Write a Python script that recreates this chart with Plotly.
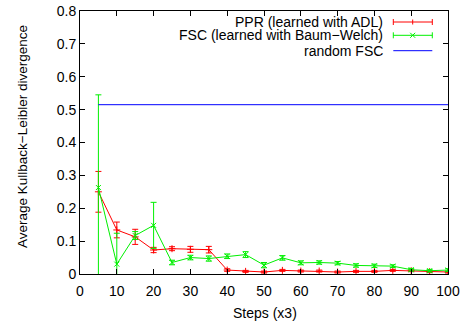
import plotly.graph_objects as go

steps = [5, 10, 15, 20, 25, 30, 35, 40, 45, 50, 55, 60, 65, 70, 75, 80, 85, 90, 95, 100]
ppr = [0.250, 0.134, 0.113, 0.073, 0.077, 0.075, 0.074, 0.012, 0.008, 0.006, 0.011, 0.009,
       0.009, 0.006, 0.008, 0.008, 0.011, 0.010, 0.007, 0.006]
ppr_err = [0.062, 0.024, 0.023, 0.008, 0.006, 0.009, 0.010, 0.004, 0.003, 0.003, 0.003, 0.003,
           0.003, 0.003, 0.003, 0.003, 0.003, 0.003, 0.003, 0.003]
fsc = [0.263, 0.030, 0.117, 0.148, 0.035, 0.050, 0.047, 0.054, 0.059, 0.027, 0.049, 0.034,
       0.035, 0.033, 0.026, 0.025, 0.024, 0.013, 0.010, 0.012]
fsc_err = [0.282, 0.094, 0.012, 0.070, 0.007, 0.007, 0.008, 0.007, 0.009, 0.008, 0.007, 0.006,
           0.005, 0.005, 0.005, 0.005, 0.004, 0.004, 0.004, 0.004]
random_fsc = 0.515
random_x = [5, 100]

labels = ["PPR (learned with ADL)", "FSC (learned with Baum\u2212Welch)", "random FSC"]
x_ticks = list(range(0, 101, 10))
y_ticks = [round(0.1 * i, 1) for i in range(9)]

RED, GREEN, BLUE = "#ff0000", "#00f000", "#0000ff"
FONT = "Liberation Sans, Arial, Helvetica, sans-serif"

W, H = 464, 324
L, R, T, B = 80, 16, 11, 50
PW, PH = W - L - R, H - T - B

def px(xp):
    return (xp - L) / PW

def py(yp):
    return 1 - (yp - T) / PH

fig = go.Figure()
fig.add_trace(go.Scatter(
    x=steps, y=ppr, mode="lines+markers", name=labels[0], showlegend=False,
    line=dict(color=RED, width=1),
    marker=dict(symbol="cross-thin", size=5, line=dict(color=RED, width=1), color=RED),
    error_y=dict(type="data", array=ppr_err, color=RED, thickness=1, width=3),
))
fig.add_trace(go.Scatter(
    x=steps, y=fsc, mode="lines+markers", name=labels[1], showlegend=False,
    line=dict(color=GREEN, width=1),
    marker=dict(symbol="x-thin", size=5, line=dict(color=GREEN, width=1), color=GREEN),
    error_y=dict(type="data", array=fsc_err, color=GREEN, thickness=1, width=3),
))
fig.add_trace(go.Scatter(
    x=random_x, y=[random_fsc] * len(random_x), mode="lines", name=labels[2], showlegend=False,
    line=dict(color=BLUE, width=1),
))

# manual gnuplot-style legend (text right, sample on right)
shapes = []
annotations = []
rows = [(22.0, RED, "plus"), (35.3, GREEN, "x"), (50.7, BLUE, None)]
x0p, x1p, xm = 393.3, 432.3, 412.7
for (yrow, col, mk), lab in zip(rows, labels):
    annotations.append(dict(x=px(384.5), y=py(yrow), xref="paper", yref="paper",
                            text=lab, showarrow=False, xanchor="right", yanchor="middle",
                            font=dict(family=FONT, size=14, color="black")))
    shapes.append(dict(type="line", xref="paper", yref="paper", x0=px(x0p), x1=px(x1p),
                       y0=py(yrow), y1=py(yrow), line=dict(color=col, width=1)))
    if mk is not None:
        for xc in (x0p, x1p):
            shapes.append(dict(type="line", xref="paper", yref="paper", x0=px(xc), x1=px(xc),
                               y0=py(yrow - 3), y1=py(yrow + 3), line=dict(color=col, width=1)))
        if mk == "plus":
            shapes.append(dict(type="line", xref="paper", yref="paper", x0=px(xm), x1=px(xm),
                               y0=py(yrow - 2.5), y1=py(yrow + 2.5), line=dict(color=col, width=1)))
        else:
            shapes.append(dict(type="line", xref="paper", yref="paper", x0=px(xm - 2.5), x1=px(xm + 2.5),
                               y0=py(yrow - 2.5), y1=py(yrow + 2.5), line=dict(color=col, width=1)))
            shapes.append(dict(type="line", xref="paper", yref="paper", x0=px(xm - 2.5), x1=px(xm + 2.5),
                               y0=py(yrow + 2.5), y1=py(yrow - 2.5), line=dict(color=col, width=1)))

annotations.append(dict(x=px(264.5), y=py(312.7), xref="paper", yref="paper",
                        text="Steps (x3)", showarrow=False, xanchor="center", yanchor="middle",
                        font=dict(family=FONT, size=14, color="black")))
annotations.append(dict(x=px(22), y=py(137), xref="paper", yref="paper", textangle=-90,
                        text="Average Kullback\u2212Leibler divergence", showarrow=False,
                        xanchor="center", yanchor="middle",
                        font=dict(family=FONT, size=13.5, color="black")))

axis_common = dict(showgrid=False, zeroline=False, showline=True, linecolor="black", linewidth=1,
                   mirror="ticks", ticks="inside", ticklen=5, tickcolor="black", tickwidth=1,
                   automargin=False,
                   tickfont=dict(family=FONT, size=14, color="black"))

fig.update_layout(
    width=W, height=H, autosize=False,
    margin=dict(l=L, r=R, t=T, b=B, pad=0, autoexpand=False),
    paper_bgcolor="white", plot_bgcolor="white",
    showlegend=False,
    shapes=shapes, annotations=annotations,
    xaxis=dict(range=[0, 100], tickvals=x_ticks, ticktext=[str(v) for v in x_ticks],
               ticklabelstandoff=4, **axis_common),
    yaxis=dict(range=[0, 0.8], tickvals=y_ticks, ticktext=[f"{v:g}" for v in y_ticks], **axis_common),
)

fig.write_html("out.html", config={"displayModeBar": False, "staticPlot": True},
               post_script="document.body.style.margin='0';document.body.style.overflow='hidden';")
